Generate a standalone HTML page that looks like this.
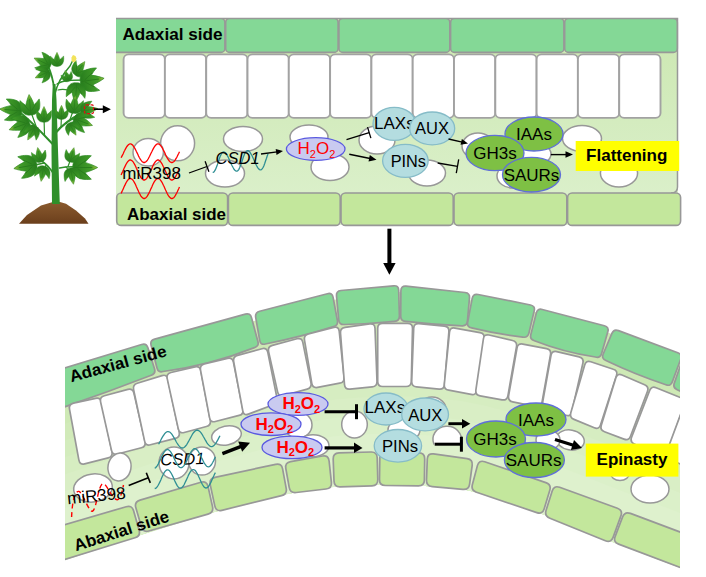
<!DOCTYPE html>
<html><head><meta charset="utf-8"><title>Leaf model</title>
<style>html,body{margin:0;padding:0;background:#fff;}svg{display:block;}</style></head>
<body>
<svg width="706" height="577" viewBox="0 0 706 577" font-family="Liberation Sans, sans-serif">
<defs><linearGradient id="mg" x1="0" y1="0" x2="0" y2="1"><stop offset="0" stop-color="#cbe7b0"/><stop offset="1" stop-color="#ddf1ce"/></linearGradient><clipPath id="bc"><rect x="65" y="270" width="615" height="300"/></clipPath></defs>
<rect width="706" height="577" fill="#fff"/>
<defs><radialGradient id="lg" cx="0.5" cy="0.6" r="0.6"><stop offset="0" stop-color="#257d20"/><stop offset="0.6" stop-color="#37982b"/><stop offset="1" stop-color="#7db840"/></radialGradient><linearGradient id="sg" x1="0" y1="0" x2="0" y2="1"><stop offset="0" stop-color="#8a5a2e"/><stop offset="1" stop-color="#6b3f1c"/></linearGradient></defs>
<defs><linearGradient id="lg2" x1="0" y1="0" x2="0" y2="1"><stop offset="0" stop-color="#a2bd3e"/><stop offset="0.28" stop-color="#429d29"/><stop offset="1" stop-color="#277c1d"/></linearGradient><g id="lf"><path d="M0 0 C-0.2 0.02 -0.42 -0.1 -0.47 -0.35 C-0.5 -0.5 -0.5 -0.62 -0.48 -0.76 C-0.4 -0.66 -0.3 -0.58 -0.21 -0.5 C-0.15 -0.7 -0.08 -0.88 0 -1.02 C0.08 -0.88 0.15 -0.7 0.21 -0.5 C0.3 -0.58 0.4 -0.66 0.48 -0.76 C0.5 -0.62 0.5 -0.5 0.47 -0.35 C0.42 -0.1 0.2 0.02 0 0 Z" fill="url(#lg2)" stroke="#2c8a22" stroke-width="0.03" stroke-linejoin="round"/><path d="M0 -0.05V-0.8M-0.3 -0.55L-0.05 -0.2M0.3 -0.55L0.05 -0.2" stroke="#277a1c" stroke-width="0.035" fill="none"/></g></defs>
<path d="M19 223.8 L27 215 L41 205.5 L52 202.3 L60 202 L66 203.8 L76 210.5 L85 218.5 L88.5 223.8 Z" fill="url(#sg)"/>
<path d="M52 204 L59.8 204 L58 150 L56.5 100 L55.5 84 L52.8 84 L52 100 L51.5 150 Z" fill="#2f8f2a"/>
<path d="M54.5 90 C53 80 51 72 48 66 L43 62" fill="none" stroke="#2f8f2a" stroke-width="1.8" stroke-linecap="round"/>
<path d="M55 94 C57 84 63 74 70 66 L73 60" fill="none" stroke="#2f8f2a" stroke-width="1.4" stroke-linecap="round"/>
<path d="M57 84 C63 80 72 80 86 80" fill="none" stroke="#2f8f2a" stroke-width="1.4" stroke-linecap="round"/>
<path d="M60 80 L66 76" fill="none" stroke="#2f8f2a" stroke-width="1.0" stroke-linecap="round"/>
<path d="M58 90 C64 88 70 90 76 92" fill="none" stroke="#2f8f2a" stroke-width="1.2" stroke-linecap="round"/>
<path d="M53.5 145 C44 135 34 124 22 114 L12 110" fill="none" stroke="#2f8f2a" stroke-width="2.0" stroke-linecap="round"/>
<path d="M36 126 L29.5 108" fill="none" stroke="#2f8f2a" stroke-width="1.2" stroke-linecap="round"/>
<path d="M44.5 135 L44 117" fill="none" stroke="#2f8f2a" stroke-width="1.2" stroke-linecap="round"/>
<path d="M28 119 L21 125" fill="none" stroke="#2f8f2a" stroke-width="1.2" stroke-linecap="round"/>
<path d="M38 128 L32 132" fill="none" stroke="#2f8f2a" stroke-width="1.0" stroke-linecap="round"/>
<path d="M55.5 133 C62 125 72 118 82 113 L88 110" fill="none" stroke="#2f8f2a" stroke-width="2.0" stroke-linecap="round"/>
<path d="M61 127 L61.5 115" fill="none" stroke="#2f8f2a" stroke-width="1.2" stroke-linecap="round"/>
<path d="M70 119.5 L74.5 107" fill="none" stroke="#2f8f2a" stroke-width="1.2" stroke-linecap="round"/>
<path d="M72 119 L82 122" fill="none" stroke="#2f8f2a" stroke-width="1.2" stroke-linecap="round"/>
<path d="M66 123 L72 128" fill="none" stroke="#2f8f2a" stroke-width="1.0" stroke-linecap="round"/>
<path d="M53.7 174 C50 168 46 164 43 162 L39 157" fill="none" stroke="#2f8f2a" stroke-width="1.6" stroke-linecap="round"/>
<path d="M44 163 L28 166.5" fill="none" stroke="#2f8f2a" stroke-width="1.3" stroke-linecap="round"/>
<path d="M46 165 L43 172" fill="none" stroke="#2f8f2a" stroke-width="1.1" stroke-linecap="round"/>
<path d="M59.5 168 C64 167 70 166.5 80 167" fill="none" stroke="#2f8f2a" stroke-width="1.6" stroke-linecap="round"/>
<path d="M68 166.5 L71.5 157" fill="none" stroke="#2f8f2a" stroke-width="1.2" stroke-linecap="round"/>
<path d="M66 167 L71.5 174" fill="none" stroke="#2f8f2a" stroke-width="1.1" stroke-linecap="round"/>
<use href="#lf" transform="translate(42.5 62) rotate(-65) scale(17.8) translate(0 0.5)"/>
<use href="#lf" transform="translate(42.5 74.5) rotate(-115) scale(15.4) translate(0 0.5)"/>
<use href="#lf" transform="translate(57 59.5) rotate(0) scale(13.8) translate(0 0.5)"/>
<use href="#lf" transform="translate(80 68.5) rotate(35) scale(16.2) translate(0 0.5)"/>
<use href="#lf" transform="translate(92 80) rotate(82) scale(23.5) translate(0 0.5)"/>
<use href="#lf" transform="translate(76 92.5) rotate(185) scale(19.4) translate(0 0.5)"/>
<use href="#lf" transform="translate(67 76) rotate(-20) scale(11.3) translate(0 0.5)"/>
<use href="#lf" transform="translate(11 110) rotate(-85) scale(21.9) translate(0 0.5)"/>
<use href="#lf" transform="translate(30 105) rotate(-5) scale(20.2) translate(0 0.5)"/>
<use href="#lf" transform="translate(44 114.5) rotate(0) scale(15.4) translate(0 0.5)"/>
<use href="#lf" transform="translate(61.5 112.5) rotate(0) scale(13.8) translate(0 0.5)"/>
<use href="#lf" transform="translate(74.5 104.5) rotate(5) scale(17.8) translate(0 0.5)"/>
<use href="#lf" transform="translate(89 110) rotate(80) scale(17.0) translate(0 0.5)"/>
<use href="#lf" transform="translate(19.5 126) rotate(-110) scale(21.1) translate(0 0.5)"/>
<use href="#lf" transform="translate(31.7 133) rotate(-150) scale(15.4) translate(0 0.5)"/>
<use href="#lf" transform="translate(83 122) rotate(110) scale(19.4) translate(0 0.5)"/>
<use href="#lf" transform="translate(72.5 129) rotate(150) scale(13.8) translate(0 0.5)"/>
<use href="#lf" transform="translate(39 155) rotate(-10) scale(14.6) translate(0 0.5)"/>
<use href="#lf" transform="translate(25.5 166.5) rotate(-100) scale(22.7) translate(0 0.5)"/>
<use href="#lf" transform="translate(42.5 173.5) rotate(-170) scale(15.4) translate(0 0.5)"/>
<use href="#lf" transform="translate(72 155) rotate(15) scale(14.6) translate(0 0.5)"/>
<use href="#lf" transform="translate(85 167.5) rotate(90) scale(24.3) translate(0 0.5)"/>
<use href="#lf" transform="translate(72 176) rotate(170) scale(16.2) translate(0 0.5)"/>
<path d="M71.5 57.5 L73 55 L75.5 56 L76.5 58.5 L75.5 61.5 L73 62.5 L71.5 60.5 Z" fill="#f2e35a"/>
<rect x="84.5" y="104.9" width="9" height="8.7" rx="1.5" fill="none" stroke="#e01010" stroke-width="1.3" stroke-dasharray="3 1.5"/>
<rect x="94" y="108.4" width="9.5" height="1.6" fill="#000"/><polygon points="102.8,105.2 110.9,109.2 102.8,113.2" fill="#000"/>
<rect x="116" y="18" width="562" height="207" fill="url(#mg)"/>
<path d="M116 18.4H677.5V187Q677.5 193 671 193" fill="none" stroke="#989898" stroke-width="1.5"/>
<clipPath id="tc"><rect x="116" y="18" width="566" height="210"/></clipPath><g clip-path="url(#tc)">
<rect x="110.4" y="18.4" width="114.50000000000001" height="34" rx="4" fill="#84d896" stroke="#989898" stroke-width="1.6"/>
<rect x="225.70000000000002" y="18.4" width="112.39999999999999" height="34" rx="4" fill="#84d896" stroke="#989898" stroke-width="1.6"/>
<rect x="338.9" y="18.4" width="110.89999999999999" height="34" rx="4" fill="#84d896" stroke="#989898" stroke-width="1.6"/>
<rect x="450.59999999999997" y="18.4" width="113.29999999999997" height="34" rx="4" fill="#84d896" stroke="#989898" stroke-width="1.6"/>
<rect x="564.6999999999999" y="18.4" width="112.6000000000001" height="34" rx="4" fill="#84d896" stroke="#989898" stroke-width="1.6"/>
</g>
<rect x="116.7" y="193" width="110.9" height="32.4" rx="4.5" fill="#c3e79c" stroke="#989898" stroke-width="1.6"/>
<rect x="228.4" y="193" width="111.80000000000003" height="32.4" rx="4.5" fill="#c3e79c" stroke="#989898" stroke-width="1.6"/>
<rect x="341.0" y="193" width="112.2" height="32.4" rx="4.5" fill="#c3e79c" stroke="#989898" stroke-width="1.6"/>
<rect x="454.0" y="193" width="112.80000000000003" height="32.4" rx="4.5" fill="#c3e79c" stroke="#989898" stroke-width="1.6"/>
<rect x="567.6" y="193" width="112.99999999999996" height="32.4" rx="4.5" fill="#c3e79c" stroke="#989898" stroke-width="1.6"/>
<rect x="123.6" y="54.4" width="41.3" height="63.5" rx="5" fill="#fff" stroke="#a2a2a2" stroke-width="1.9"/>
<rect x="164.9" y="54.4" width="41.3" height="63.5" rx="5" fill="#fff" stroke="#a2a2a2" stroke-width="1.9"/>
<rect x="206.2" y="54.4" width="41.3" height="63.5" rx="5" fill="#fff" stroke="#a2a2a2" stroke-width="1.9"/>
<rect x="247.5" y="54.4" width="41.3" height="63.5" rx="5" fill="#fff" stroke="#a2a2a2" stroke-width="1.9"/>
<rect x="288.8" y="54.4" width="41.3" height="63.5" rx="5" fill="#fff" stroke="#a2a2a2" stroke-width="1.9"/>
<rect x="330.1" y="54.4" width="41.3" height="63.5" rx="5" fill="#fff" stroke="#a2a2a2" stroke-width="1.9"/>
<rect x="371.4" y="54.4" width="41.3" height="63.5" rx="5" fill="#fff" stroke="#a2a2a2" stroke-width="1.9"/>
<rect x="412.7" y="54.4" width="41.3" height="63.5" rx="5" fill="#fff" stroke="#a2a2a2" stroke-width="1.9"/>
<rect x="454.0" y="54.4" width="41.3" height="63.5" rx="5" fill="#fff" stroke="#a2a2a2" stroke-width="1.9"/>
<rect x="495.3" y="54.4" width="41.3" height="63.5" rx="5" fill="#fff" stroke="#a2a2a2" stroke-width="1.9"/>
<rect x="536.6" y="54.4" width="41.3" height="63.5" rx="5" fill="#fff" stroke="#a2a2a2" stroke-width="1.9"/>
<rect x="577.9" y="54.4" width="41.3" height="63.5" rx="5" fill="#fff" stroke="#a2a2a2" stroke-width="1.9"/>
<rect x="619.2" y="54.4" width="41.3" height="63.5" rx="5" fill="#fff" stroke="#a2a2a2" stroke-width="1.9"/>
<ellipse cx="177.6" cy="143.3" rx="17" ry="17.5" fill="#ffffff" stroke="#989898" stroke-width="1.5"/>
<ellipse cx="148.2" cy="152.2" rx="15.2" ry="13.8" fill="#ffffff" stroke="#989898" stroke-width="1.5"/>
<ellipse cx="243" cy="139" rx="19.5" ry="12.5" fill="#ffffff" stroke="#989898" stroke-width="1.5"/>
<ellipse cx="225" cy="173.5" rx="19.5" ry="13.5" fill="#ffffff" stroke="#989898" stroke-width="1.5"/>
<ellipse cx="309" cy="137" rx="19" ry="12" fill="#ffffff" stroke="#989898" stroke-width="1.5"/>
<ellipse cx="330" cy="167" rx="19" ry="13.5" fill="#ffffff" stroke="#989898" stroke-width="1.5"/>
<ellipse cx="377" cy="140" rx="18" ry="14" fill="#ffffff" stroke="#989898" stroke-width="1.5"/>
<ellipse cx="427" cy="173" rx="18.5" ry="13" fill="#ffffff" stroke="#989898" stroke-width="1.5"/>
<ellipse cx="478" cy="146" rx="16" ry="13" fill="#ffffff" stroke="#989898" stroke-width="1.5"/>
<ellipse cx="513" cy="176" rx="16" ry="12" fill="#ffffff" stroke="#989898" stroke-width="1.5"/>
<ellipse cx="533" cy="154" rx="18" ry="11.5" fill="#ffffff" stroke="#989898" stroke-width="1.5"/>
<ellipse cx="582" cy="138.5" rx="19.5" ry="13" fill="#ffffff" stroke="#989898" stroke-width="1.5"/>
<ellipse cx="619" cy="173" rx="18.6" ry="14" fill="#ffffff" stroke="#989898" stroke-width="1.5"/>
<path d="M121.1 157.8 L121.8 156.4 L122.6 154.9 L123.3 153.4 L124.0 151.8 L124.8 150.3 L125.5 148.9 L126.2 147.6 L126.9 146.5 L127.7 145.5 L128.4 144.8 L129.1 144.2 L129.9 143.9 L130.6 143.9 L131.3 144.1 L132.0 144.6 L132.8 145.3 L133.5 146.3 L134.2 147.4 L135.0 148.6 L135.7 150.0 L136.4 151.5 L137.2 153.1 L137.9 154.6 L138.6 156.1 L139.3 157.5 L140.1 158.8 L140.8 160.0 L141.5 160.9 L142.3 161.7 L143.0 162.2 L143.7 162.5 L144.5 162.5 L145.2 162.2 L145.9 161.8 L146.7 161.0 L147.4 160.1 L148.1 159.0 L148.8 157.7 L149.6 156.3 L150.3 154.8 L151.0 153.3 L151.8 151.8 L152.5 150.3 L153.2 148.9 L153.9 147.6 L154.7 146.4 L155.4 145.5 L156.1 144.7 L156.9 144.2 L157.6 143.9 L158.3 143.9 L159.1 144.2 L159.8 144.7 L160.5 145.4 L161.2 146.3 L162.0 147.4 L162.7 148.7 L163.4 150.1 L164.2 151.6 L164.9 153.1 L165.6 154.7 L166.4 156.2 L167.1 157.6 L167.8 158.9 L168.6 160.0 L169.3 161.0 L170.0 161.7 L170.7 162.2 L171.5 162.5 L172.2 162.5 L172.9 162.2 L173.7 161.7 L174.4 161.0 L175.1 160.1 L175.8 158.9 L176.6 157.6 L177.3 156.2 L178.0 154.7 L178.8 153.2 L179.5 151.7" fill="none" stroke="#f00" stroke-width="1.3"/>
<path d="M121.1 174.9 L121.8 173.4 L122.6 171.8 L123.3 170.2 L124.0 168.5 L124.8 166.9 L125.5 165.4 L126.2 164.0 L126.9 162.8 L127.7 161.7 L128.4 160.9 L129.1 160.4 L129.9 160.0 L130.6 160.0 L131.3 160.3 L132.0 160.8 L132.8 161.5 L133.5 162.5 L134.2 163.7 L135.0 165.1 L135.7 166.6 L136.4 168.2 L137.2 169.9 L137.9 171.5 L138.6 173.1 L139.3 174.6 L140.1 176.0 L140.8 177.3 L141.5 178.3 L142.3 179.1 L143.0 179.7 L143.7 180.0 L144.5 180.0 L145.2 179.7 L145.9 179.2 L146.7 178.4 L147.4 177.4 L148.1 176.2 L148.8 174.9 L149.6 173.3 L150.3 171.7 L151.0 170.1 L151.8 168.5 L152.5 166.8 L153.2 165.3 L153.9 163.9 L154.7 162.7 L155.4 161.7 L156.1 160.9 L156.9 160.3 L157.6 160.0 L158.3 160.0 L159.1 160.3 L159.8 160.8 L160.5 161.6 L161.2 162.6 L162.0 163.8 L162.7 165.2 L163.4 166.7 L164.2 168.3 L164.9 169.9 L165.6 171.6 L166.4 173.2 L167.1 174.7 L167.8 176.1 L168.6 177.3 L169.3 178.3 L170.0 179.1 L170.7 179.7 L171.5 180.0 L172.2 180.0 L172.9 179.7 L173.7 179.2 L174.4 178.4 L175.1 177.4 L175.8 176.2 L176.6 174.8 L177.3 173.3 L178.0 171.7 L178.8 170.0 L179.5 168.4" fill="none" stroke="#f00" stroke-width="1.3"/>
<path d="M121.1 193.4 L121.8 191.9 L122.6 190.3 L123.3 188.7 L124.0 187.0 L124.8 185.4 L125.5 183.9 L126.2 182.5 L126.9 181.3 L127.7 180.2 L128.4 179.4 L129.1 178.9 L129.9 178.5 L130.6 178.5 L131.3 178.8 L132.0 179.3 L132.8 180.0 L133.5 181.0 L134.2 182.2 L135.0 183.6 L135.7 185.1 L136.4 186.7 L137.2 188.4 L137.9 190.0 L138.6 191.6 L139.3 193.1 L140.1 194.5 L140.8 195.8 L141.5 196.8 L142.3 197.6 L143.0 198.2 L143.7 198.5 L144.5 198.5 L145.2 198.2 L145.9 197.7 L146.7 196.9 L147.4 195.9 L148.1 194.7 L148.8 193.4 L149.6 191.8 L150.3 190.2 L151.0 188.6 L151.8 187.0 L152.5 185.3 L153.2 183.8 L153.9 182.4 L154.7 181.2 L155.4 180.2 L156.1 179.4 L156.9 178.8 L157.6 178.5 L158.3 178.5 L159.1 178.8 L159.8 179.3 L160.5 180.1 L161.2 181.1 L162.0 182.3 L162.7 183.7 L163.4 185.2 L164.2 186.8 L164.9 188.4 L165.6 190.1 L166.4 191.7 L167.1 193.2 L167.8 194.6 L168.6 195.8 L169.3 196.8 L170.0 197.6 L170.7 198.2 L171.5 198.5 L172.2 198.5 L172.9 198.2 L173.7 197.7 L174.4 196.9 L175.1 195.9 L175.8 194.7 L176.6 193.3 L177.3 191.8 L178.0 190.2 L178.8 188.5 L179.5 186.9" fill="none" stroke="#f00" stroke-width="1.3"/>
<text x="122.3" y="179" font-size="17" text-anchor="start" font-weight="normal" fill="#000">miR398</text>
<line x1="189.0" y1="173.0" x2="207.0" y2="166.5" stroke="#000" stroke-width="1.3"/><line x1="208.9" y1="171.7" x2="205.1" y2="161.3" stroke="#000" stroke-width="1.3"/>
<path d="M212.7 172.5 L213.7 172.1 L214.5 171.2 L215.4 169.7 L216.2 167.8 L217.1 165.6 L217.9 163.1 L218.7 160.6 L219.5 158.2 L220.3 156.1 L221.2 154.2 L222.0 152.9 L222.9 152.1 L223.8 151.9 L224.8 152.3 L225.8 153.2 L226.8 154.7 L227.9 156.6 L228.9 158.8 L230.0 161.2 L231.0 163.6 L232.1 165.8 L233.2 167.8 L234.2 169.5 L235.2 170.6 L236.1 171.2 L237.1 171.1 L238.0 170.5 L238.9 169.3 L239.7 167.6 L240.5 165.5 L241.4 163.2 L242.2 160.7 L243.0 158.2 L243.8 155.9 L244.6 153.9 L245.5 152.3 L246.4 151.2 L247.3 150.6 L248.2 150.7 L249.2 151.4 L250.2 152.6 L251.2 154.3 L252.3 156.3 L253.3 158.6 L254.4 161.0 L255.5 163.4 L256.5 165.5 L257.5 167.4 L258.6 168.8 L259.5 169.6 L260.5 169.9 L261.4 169.6 L262.3 168.7 L263.2 167.3 L264.0 165.4 L264.8 163.2 L265.6 160.7 L266.5 158.2 L267.3 155.8 L268.1 153.6" fill="none" stroke="#2f8f94" stroke-width="1.3"/>
<text x="215.6" y="164" font-size="16.5" text-anchor="start" font-weight="normal" fill="#000" font-style="italic">CSD1</text>
<line x1="261.0" y1="154.0" x2="277.1" y2="151.8" stroke="#000" stroke-width="1.3"/><polygon points="283.0,151.0 276.5,154.9 275.7,149.0" fill="#000"/>
<ellipse cx="315.7" cy="149" rx="29.3" ry="11.3" fill="#c9caf0" stroke="#5a5ae0" stroke-width="1.3"/>
<text x="316.5" y="154.3" font-size="17" text-anchor="middle" font-weight="normal" fill="#f00">H<tspan font-size="11.05" dy="3.4">2</tspan><tspan dy="-3.4">O</tspan><tspan font-size="11.05" dy="3.4">2</tspan></text>
<line x1="346.5" y1="139.7" x2="369.2" y2="132.6" stroke="#000" stroke-width="1.3"/><line x1="370.9" y1="138.1" x2="367.5" y2="127.1" stroke="#000" stroke-width="1.3"/>
<line x1="349.3" y1="154.2" x2="370.1" y2="158.5" stroke="#000" stroke-width="1.4"/><polygon points="376.5,159.8 368.5,161.5 369.8,155.1" fill="#000"/>
<ellipse cx="394.3" cy="123.8" rx="21.3" ry="16.5" fill="#b4dde0" stroke="#86bcc8" stroke-width="1.3"/>
<text x="374" y="129" font-size="17" text-anchor="start" font-weight="normal" fill="#000">LAXs</text>
<ellipse cx="432.2" cy="128.4" rx="22.5" ry="16.4" fill="#b4dde0" stroke="#86bcc8" stroke-width="1.3"/>
<ellipse cx="405.4" cy="160.8" rx="22.8" ry="16.5" fill="#b4dde0" stroke="#86bcc8" stroke-width="1.3"/>
<text x="432" y="133.5" font-size="16.5" text-anchor="middle" font-weight="normal" fill="#000">AUX</text>
<text x="408.3" y="166.7" font-size="16.3" text-anchor="middle" font-weight="normal" fill="#000">PINs</text>
<line x1="448.5" y1="139.0" x2="462.2" y2="142.2" stroke="#000" stroke-width="1.3"/><polygon points="468.0,143.5 460.5,144.8 461.9,139.0" fill="#000"/>
<line x1="437.7" y1="163.0" x2="457.5" y2="166.3" stroke="#000" stroke-width="1.3"/><line x1="456.3" y1="173.2" x2="458.7" y2="159.4" stroke="#000" stroke-width="1.3"/>
<ellipse cx="534" cy="134" rx="29" ry="17" fill="#7ec044" stroke="#5f6fd8" stroke-width="1.3"/>
<ellipse cx="495" cy="153" rx="29" ry="17.7" fill="#7ec044" stroke="#5f6fd8" stroke-width="1.3"/>
<ellipse cx="531.5" cy="174.7" rx="29" ry="17.3" fill="#7ec044" stroke="#5f6fd8" stroke-width="1.3"/>
<text x="495" y="159" font-size="17" text-anchor="middle" font-weight="normal" fill="#000">GH3s</text>
<text x="534" y="140" font-size="17" text-anchor="middle" font-weight="normal" fill="#000">IAAs</text>
<text x="531.5" y="181" font-size="17" text-anchor="middle" font-weight="normal" fill="#000">SAURs</text>
<line x1="550.8" y1="154.6" x2="566.5" y2="154.6" stroke="#000" stroke-width="1.4"/><polygon points="573.0,154.6 565.5,157.8 565.5,151.3" fill="#000"/>
<rect x="575.7" y="141" width="103.5" height="30" fill="#ffff00"/>
<text x="626.7" y="161.2" font-size="17" text-anchor="middle" font-weight="bold" fill="#000">Flattening</text>
<text x="122.5" y="40" font-size="16.5" text-anchor="start" font-weight="bold" fill="#000" textLength="100" lengthAdjust="spacingAndGlyphs">Adaxial side</text>
<text x="127" y="220.3" font-size="16.5" text-anchor="start" font-weight="bold" fill="#000" textLength="99" lengthAdjust="spacingAndGlyphs">Abaxial side</text>
<rect x="387.4" y="228.7" width="4" height="35" fill="#000"/><polygon points="383.2,263 395.6,263 389.4,274.8" fill="#000"/>
<g clip-path="url(#bc)">
<path d="M60 386 L146 351 L250 322 L332 300 L400 292 L469 300 L535 312 L609 333 L685 362 L685 570 L612 542 L542 514 L470 490 L425 486 L378 485 L334 487 L290 493.5 L215 512 L141 535 L60 562Z" fill="#cde8b3" />
<path d="M60 408.7 L85 399.5 L110 390.4 L135 381.2 L160 372.4 L185 365.9 L210 359.3 L235 352.7 L260 346.1 L285 339.3 L310 332.5 L335 325.7 L360 323.6 L385 321.9 L410 321.7 L435 323.2 L460 324.8 L485 329.0 L510 334.2 L535 340.0 L560 347.0 L585 353.9 L610 362.3 L635 372.4 L660 382.5 L685 395.7 L685 569.5 L660 559.9 L635 550.3 L610 540.7 L585 530.7 L560 520.7 L535 511.2 L510 502.8 L485 494.5 L460 488.6 L435 486.4 L410 485.2 L385 484.6 L360 485.3 L335 486.5 L310 490.0 L285 494.2 L260 500.4 L235 506.6 L210 513.1 L185 520.8 L160 528.6 L135 536.5 L110 544.8 L85 553.2 L60 561.5Z" fill="rgb(206,233,181)"/>
<path d="M60 425.5 L85 416.6 L110 407.7 L135 398.7 L160 390.1 L185 383.3 L210 376.5 L235 370.0 L260 363.4 L285 356.7 L310 350.4 L335 344.1 L360 342.0 L385 340.5 L410 340.4 L435 342.0 L460 343.8 L485 348.2 L510 353.8 L535 359.7 L560 367.0 L585 374.4 L610 383.0 L635 393.0 L660 403.0 L685 415.5 L685 569.5 L660 559.9 L635 550.3 L610 540.7 L585 530.7 L560 520.7 L535 511.2 L510 502.8 L485 494.5 L460 488.6 L435 486.4 L410 485.2 L385 484.6 L360 485.3 L335 486.5 L310 490.0 L285 494.2 L260 500.4 L235 506.6 L210 513.1 L185 520.8 L160 528.6 L135 536.5 L110 544.8 L85 553.2 L60 561.5Z" fill="rgb(209,234,185)"/>
<path d="M60 442.2 L85 433.6 L110 425.0 L135 416.3 L160 407.8 L185 400.8 L210 393.8 L235 387.3 L260 380.7 L285 374.2 L310 368.3 L335 362.6 L360 360.5 L385 359.2 L410 359.1 L435 360.8 L460 362.8 L485 367.4 L510 373.3 L535 379.5 L560 387.0 L585 394.8 L610 403.7 L635 413.6 L660 423.4 L685 435.4 L685 569.5 L660 559.9 L635 550.3 L610 540.7 L585 530.7 L560 520.7 L535 511.2 L510 502.8 L485 494.5 L460 488.6 L435 486.4 L410 485.2 L385 484.6 L360 485.3 L335 486.5 L310 490.0 L285 494.2 L260 500.4 L235 506.6 L210 513.1 L185 520.8 L160 528.6 L135 536.5 L110 544.8 L85 553.2 L60 561.5Z" fill="rgb(211,236,189)"/>
<path d="M60 459.0 L85 450.6 L110 442.3 L135 433.8 L160 425.4 L185 418.2 L210 411.1 L235 404.6 L260 398.0 L285 391.6 L310 386.2 L335 381.0 L360 379.0 L385 377.8 L410 377.8 L435 379.5 L460 381.8 L485 386.6 L510 392.8 L535 399.3 L560 407.0 L585 415.3 L610 424.4 L635 434.2 L660 443.9 L685 455.2 L685 569.5 L660 559.9 L635 550.3 L610 540.7 L585 530.7 L560 520.7 L535 511.2 L510 502.8 L485 494.5 L460 488.6 L435 486.4 L410 485.2 L385 484.6 L360 485.3 L335 486.5 L310 490.0 L285 494.2 L260 500.4 L235 506.6 L210 513.1 L185 520.8 L160 528.6 L135 536.5 L110 544.8 L85 553.2 L60 561.5Z" fill="rgb(214,237,193)"/>
<path d="M60 475.8 L85 467.7 L110 459.6 L135 451.4 L160 443.1 L185 435.7 L210 428.4 L235 421.9 L260 415.4 L285 409.1 L310 404.1 L335 399.4 L360 397.5 L385 396.4 L410 396.6 L435 398.3 L460 400.8 L485 405.8 L510 412.3 L535 419.1 L560 427.0 L585 435.7 L610 445.1 L635 454.8 L660 464.3 L685 475.1 L685 569.5 L660 559.9 L635 550.3 L610 540.7 L585 530.7 L560 520.7 L535 511.2 L510 502.8 L485 494.5 L460 488.6 L435 486.4 L410 485.2 L385 484.6 L360 485.3 L335 486.5 L310 490.0 L285 494.2 L260 500.4 L235 506.6 L210 513.1 L185 520.8 L160 528.6 L135 536.5 L110 544.8 L85 553.2 L60 561.5Z" fill="rgb(217,238,197)"/>
<path d="M60 492.6 L85 484.7 L110 476.9 L135 468.9 L160 460.7 L185 453.1 L210 445.7 L235 439.2 L260 432.7 L285 426.5 L310 422.0 L335 417.8 L360 416.0 L385 415.0 L410 415.3 L435 417.1 L460 419.8 L485 424.9 L510 431.8 L535 438.9 L560 447.0 L585 456.2 L610 465.8 L635 475.4 L660 484.8 L685 494.9 L685 569.5 L660 559.9 L635 550.3 L610 540.7 L585 530.7 L560 520.7 L535 511.2 L510 502.8 L485 494.5 L460 488.6 L435 486.4 L410 485.2 L385 484.6 L360 485.3 L335 486.5 L310 490.0 L285 494.2 L260 500.4 L235 506.6 L210 513.1 L185 520.8 L160 528.6 L135 536.5 L110 544.8 L85 553.2 L60 561.5Z" fill="rgb(219,240,201)"/>
<path d="M60 509.4 L85 501.8 L110 494.2 L135 486.5 L160 478.4 L185 470.6 L210 462.9 L235 456.5 L260 450.0 L285 443.9 L310 439.9 L335 436.2 L360 434.5 L385 433.6 L410 434.0 L435 435.9 L460 438.8 L485 444.1 L510 451.4 L535 458.7 L560 467.0 L585 476.6 L610 486.5 L635 496.1 L660 505.2 L685 514.8 L685 569.5 L660 559.9 L635 550.3 L610 540.7 L585 530.7 L560 520.7 L535 511.2 L510 502.8 L485 494.5 L460 488.6 L435 486.4 L410 485.2 L385 484.6 L360 485.3 L335 486.5 L310 490.0 L285 494.2 L260 500.4 L235 506.6 L210 513.1 L185 520.8 L160 528.6 L135 536.5 L110 544.8 L85 553.2 L60 561.5Z" fill="rgb(222,241,205)"/>
<path d="M44.8 374.0 L141.6 344.5 Q146.4 343.0 147.9 347.8 L154.5 368.7 Q156.0 373.5 151.3 375.2 Q103.3 393.7 54.7 410.3 Q50.0 412.0 48.7 407.2 L41.3 380.3 Q40.0 375.5 44.8 374.0 Z" fill="#84d896" stroke="#989898" stroke-width="1.7" stroke-linejoin="round"/>
<path d="M154.7 339.1 L245.4 314.1 Q250.2 312.8 251.5 317.6 L257.9 341.5 Q259.2 346.3 254.4 347.6 Q210.2 365.4 163.0 371.5 Q158.2 372.8 157.0 368.0 L151.1 345.2 Q149.9 340.4 154.7 339.1 Z" fill="#84d896" stroke="#989898" stroke-width="1.7" stroke-linejoin="round"/>
<path d="M259.7 311.2 L327.4 293.7 Q332.2 292.4 333.1 297.3 L337.4 320.5 Q338.3 325.4 333.5 326.6 Q299.9 337.2 265.3 344.0 Q260.5 345.2 259.7 340.3 L255.7 317.4 Q254.9 312.5 259.7 311.2 Z" fill="#84d896" stroke="#989898" stroke-width="1.7" stroke-linejoin="round"/>
<path d="M341.0 290.5 L393.6 285.8 Q398.6 285.3 398.7 290.3 L399.4 316.0 Q399.5 321.0 394.5 321.3 Q369.4 323.9 344.2 324.5 Q339.2 324.8 338.7 319.8 L336.5 296.0 Q336.0 291.0 341.0 290.5 Z" fill="#84d896" stroke="#989898" stroke-width="1.7" stroke-linejoin="round"/>
<path d="M406.0 286.2 L465.0 292.5 Q470.0 293.0 469.5 298.0 L467.4 321.2 Q466.9 326.2 461.9 325.8 Q433.7 324.6 405.6 321.4 Q400.6 321.0 400.7 316.0 L400.9 290.7 Q401.0 285.7 406.0 286.2 Z" fill="#84d896" stroke="#989898" stroke-width="1.7" stroke-linejoin="round"/>
<path d="M478.1 294.5 L530.5 305.0 Q535.4 306.0 534.2 310.9 L528.9 333.1 Q527.7 338.0 522.8 337.1 Q496.9 334.1 471.6 327.9 Q466.7 327.0 467.7 322.1 L472.2 298.4 Q473.2 293.5 478.1 294.5 Z" fill="#84d896" stroke="#989898" stroke-width="1.7" stroke-linejoin="round"/>
<path d="M542.3 309.5 L604.4 325.7 Q609.2 327.0 607.8 331.8 L601.6 353.5 Q600.2 358.3 595.4 357.0 Q564.0 352.3 534.4 340.7 Q529.6 339.4 530.8 334.6 L536.3 313.0 Q537.5 308.2 542.3 309.5 Z" fill="#84d896" stroke="#989898" stroke-width="1.7" stroke-linejoin="round"/>
<path d="M618.5 330.6 L677.8 352.7 Q682.5 354.5 680.7 359.2 L672.3 381.9 Q670.5 386.6 665.9 384.7 Q635.1 374.5 605.9 360.5 Q601.3 358.6 603.2 354.0 L611.9 333.4 Q613.8 328.8 618.5 330.6 Z" fill="#84d896" stroke="#989898" stroke-width="1.7" stroke-linejoin="round"/>
<path d="M689.1 355.9 L707.4 363.1 Q712.0 365.0 710.4 369.7 L701.6 394.8 Q700.0 399.5 695.4 397.5 L677.2 389.8 Q672.6 387.8 674.3 383.1 L682.8 358.7 Q684.5 354.0 689.1 355.9 Z" fill="#84d896" stroke="#989898" stroke-width="1.7" stroke-linejoin="round"/>
<path d="M45.8 530.3 L126.2 506.7 Q132.0 505.0 133.6 510.8 L139.1 530.2 Q140.7 536.0 135.0 537.8 L45.7 565.2 Q40.0 567.0 40.0 561.0 L40.0 538.0 Q40.0 532.0 45.8 530.3 Z" fill="#c3e79c" stroke="#989898" stroke-width="1.7" stroke-linejoin="round"/>
<path d="M140.0 500.1 L200.9 482.2 Q206.7 480.5 208.0 486.4 L212.5 506.6 Q213.8 512.5 208.0 514.1 L148.8 531.0 Q143.0 532.6 141.4 526.8 L135.8 507.6 Q134.2 501.8 140.0 500.1 Z" fill="#c3e79c" stroke="#989898" stroke-width="1.7" stroke-linejoin="round"/>
<path d="M214.9 477.4 L275.6 464.3 Q281.5 463.0 282.6 468.9 L286.2 488.4 Q287.3 494.3 281.5 495.7 L221.8 510.3 Q216.0 511.7 214.8 505.8 L210.2 484.6 Q209.0 478.7 214.9 477.4 Z" fill="#c3e79c" stroke="#989898" stroke-width="1.7" stroke-linejoin="round"/>
<path d="M290.7 461.6 L322.6 456.0 Q328.5 455.0 329.1 461.0 L331.4 482.3 Q332.0 488.3 326.0 489.0 L296.2 492.5 Q290.2 493.2 289.2 487.3 L285.8 468.5 Q284.8 462.6 290.7 461.6 Z" fill="#c3e79c" stroke="#989898" stroke-width="1.7" stroke-linejoin="round"/>
<path d="M339.0 452.8 L371.0 452.0 Q377.0 451.8 377.2 457.8 L377.8 479.6 Q378.0 485.6 372.0 485.8 L340.2 486.8 Q334.2 487.0 334.0 481.0 L333.2 459.0 Q333.0 453.0 339.0 452.8 Z" fill="#c3e79c" stroke="#989898" stroke-width="1.7" stroke-linejoin="round"/>
<path d="M385.9 452.5 L418.8 452.9 Q424.8 453.0 424.7 459.0 L424.4 480.0 Q424.3 486.0 418.3 485.9 L385.4 485.5 Q379.4 485.4 379.5 479.4 L379.8 458.4 Q379.9 452.4 385.9 452.5 Z" fill="#c3e79c" stroke="#989898" stroke-width="1.7" stroke-linejoin="round"/>
<path d="M433.5 453.9 L467.1 458.6 Q473.0 459.5 472.2 465.4 L469.6 484.1 Q468.8 490.0 462.8 489.4 L432.2 486.6 Q426.2 486.0 426.5 480.0 L427.3 459.0 Q427.6 453.0 433.5 453.9 Z" fill="#c3e79c" stroke="#989898" stroke-width="1.7" stroke-linejoin="round"/>
<path d="M484.7 461.7 L545.8 482.6 Q551.5 484.5 549.8 490.2 L544.2 508.8 Q542.5 514.5 536.8 512.6 L476.5 492.2 Q470.8 490.3 472.4 484.5 L477.4 465.6 Q479.0 459.8 484.7 461.7 Z" fill="#c3e79c" stroke="#989898" stroke-width="1.7" stroke-linejoin="round"/>
<path d="M559.6 487.3 L617.4 508.2 Q623.0 510.3 620.9 515.9 L613.1 537.4 Q611.0 543.0 605.4 540.7 L549.9 518.3 Q544.3 516.0 546.1 510.3 L552.2 490.9 Q554.0 485.2 559.6 487.3 Z" fill="#c3e79c" stroke="#989898" stroke-width="1.7" stroke-linejoin="round"/>
<path d="M630.4 513.4 L694.4 537.4 Q700.0 539.5 700.0 545.5 L700.0 569.0 Q700.0 575.0 694.4 572.9 L618.6 544.1 Q613.0 542.0 615.2 536.4 L622.6 516.9 Q624.8 511.3 630.4 513.4 Z" fill="#c3e79c" stroke="#989898" stroke-width="1.7" stroke-linejoin="round"/>
<path d="M73.5 403.1 L95.6 398.3 Q100.5 397.2 101.5 402.1 L112.0 451.8 Q113.0 456.7 108.2 457.9 L84.6 463.9 Q79.8 465.1 78.9 460.2 L69.5 409.1 Q68.6 404.2 73.5 403.1 Z" fill="#ffffff" stroke="#989898" stroke-width="1.7" stroke-linejoin="round"/>
<path d="M104.4 395.8 L127.9 389.4 Q132.7 388.1 133.9 393.0 L145.1 441.6 Q146.2 446.5 141.4 447.8 L117.4 454.0 Q112.6 455.3 111.5 450.4 L100.6 402.0 Q99.5 397.1 104.4 395.8 Z" fill="#ffffff" stroke="#989898" stroke-width="1.7" stroke-linejoin="round"/>
<path d="M137.3 383.3 L162.0 375.6 Q166.8 374.1 167.8 379.0 L179.2 432.3 Q180.2 437.2 175.4 438.4 L150.4 444.8 Q145.6 446.1 144.6 441.2 L133.6 389.7 Q132.6 384.8 137.3 383.3 Z" fill="#ffffff" stroke="#989898" stroke-width="1.7" stroke-linejoin="round"/>
<path d="M171.0 372.5 L195.0 366.8 Q199.8 365.7 200.8 370.6 L210.3 420.3 Q211.2 425.2 206.4 426.5 L184.2 432.5 Q179.4 433.8 178.3 428.9 L167.2 378.6 Q166.1 373.7 171.0 372.5 Z" fill="#ffffff" stroke="#989898" stroke-width="1.7" stroke-linejoin="round"/>
<path d="M204.4 363.9 L227.5 358.3 Q232.4 357.2 233.4 362.1 L242.9 409.3 Q243.9 414.2 239.1 415.4 L215.3 421.5 Q210.5 422.8 209.6 417.9 L200.5 370.0 Q199.6 365.1 204.4 363.9 Z" fill="#ffffff" stroke="#989898" stroke-width="1.7" stroke-linejoin="round"/>
<path d="M237.6 355.4 L262.0 348.7 Q266.8 347.4 267.8 352.3 L277.0 398.2 Q278.0 403.1 273.3 404.8 L248.4 414.1 Q243.7 415.9 242.8 411.0 L233.7 361.6 Q232.8 356.7 237.6 355.4 Z" fill="#ffffff" stroke="#989898" stroke-width="1.7" stroke-linejoin="round"/>
<path d="M272.4 345.4 L297.0 338.8 Q301.8 337.5 302.8 342.4 L311.0 382.9 Q312.0 387.8 307.2 389.1 L283.5 395.5 Q278.7 396.8 277.6 391.9 L268.6 351.6 Q267.5 346.7 272.4 345.4 Z" fill="#ffffff" stroke="#989898" stroke-width="1.7" stroke-linejoin="round"/>
<path d="M308.5 334.0 L333.8 327.4 Q338.6 326.1 339.2 331.1 L344.1 377.3 Q344.6 382.3 339.7 383.2 L317.6 387.4 Q312.7 388.3 311.8 383.4 L304.5 340.2 Q303.6 335.3 308.5 334.0 Z" fill="#ffffff" stroke="#989898" stroke-width="1.7" stroke-linejoin="round"/>
<path d="M345.1 327.4 L369.8 323.9 Q374.8 323.2 375.0 328.2 L377.0 381.4 Q377.2 386.4 372.2 386.9 L349.9 389.1 Q344.9 389.6 344.5 384.6 L340.5 333.0 Q340.1 328.1 345.1 327.4 Z" fill="#ffffff" stroke="#989898" stroke-width="1.7" stroke-linejoin="round"/>
<path d="M382.6 323.4 L407.6 323.4 Q412.6 323.4 412.5 328.4 L411.3 381.5 Q411.1 386.5 406.1 386.5 L382.6 386.5 Q377.7 386.5 377.7 381.5 L377.7 328.4 Q377.7 323.4 382.6 323.4 Z" fill="#ffffff" stroke="#989898" stroke-width="1.7" stroke-linejoin="round"/>
<path d="M418.9 323.7 L444.3 326.1 Q449.3 326.5 448.9 331.5 L444.5 384.6 Q444.1 389.6 439.1 389.1 L416.5 386.9 Q411.5 386.4 411.7 381.4 L413.7 328.3 Q413.9 323.3 418.9 323.7 Z" fill="#ffffff" stroke="#989898" stroke-width="1.7" stroke-linejoin="round"/>
<path d="M454.9 328.1 L479.9 332.7 Q484.9 333.6 484.2 338.6 L476.8 390.4 Q476.1 395.3 471.1 394.4 L448.7 390.2 Q443.8 389.3 444.3 384.3 L449.5 332.2 Q450.0 327.2 454.9 328.1 Z" fill="#ffffff" stroke="#989898" stroke-width="1.7" stroke-linejoin="round"/>
<path d="M489.0 335.0 L512.5 340.5 Q517.4 341.7 516.5 346.6 L507.9 395.8 Q507.0 400.7 502.1 399.8 L480.1 395.8 Q475.2 394.9 475.9 389.9 L483.4 338.8 Q484.1 333.9 489.0 335.0 Z" fill="#ffffff" stroke="#989898" stroke-width="1.7" stroke-linejoin="round"/>
<path d="M522.8 344.1 L546.5 348.7 Q551.4 349.6 550.5 354.6 L541.9 402.8 Q541.0 407.7 536.1 406.7 L512.7 401.8 Q507.8 400.8 508.6 395.8 L517.0 348.1 Q517.8 343.2 522.8 344.1 Z" fill="#ffffff" stroke="#989898" stroke-width="1.7" stroke-linejoin="round"/>
<path d="M556.7 351.6 L579.1 356.9 Q584.0 358.1 582.9 363.0 L571.8 412.0 Q570.7 416.9 565.9 415.3 L546.6 408.7 Q541.8 407.1 542.7 402.2 L551.0 355.4 Q551.9 350.5 556.7 351.6 Z" fill="#ffffff" stroke="#989898" stroke-width="1.7" stroke-linejoin="round"/>
<path d="M590.8 361.7 L613.3 369.3 Q618.1 370.8 616.5 375.6 L600.5 425.0 Q598.9 429.7 594.3 427.8 L574.0 419.4 Q569.4 417.5 570.8 412.7 L584.7 364.9 Q586.1 360.1 590.8 361.7 Z" fill="#ffffff" stroke="#989898" stroke-width="1.7" stroke-linejoin="round"/>
<path d="M622.0 375.0 L644.6 384.7 Q649.2 386.7 647.5 391.3 L630.5 436.2 Q628.7 440.9 624.0 439.1 L604.5 431.8 Q599.8 430.1 601.3 425.3 L615.9 377.8 Q617.4 373.0 622.0 375.0 Z" fill="#ffffff" stroke="#989898" stroke-width="1.7" stroke-linejoin="round"/>
<path d="M656.1 387.7 L681.5 398.0 Q686.1 399.9 684.4 404.6 L667.1 453.2 Q665.4 457.9 660.8 455.9 L634.3 444.0 Q629.8 442.0 631.6 437.3 L649.7 390.4 Q651.5 385.8 656.1 387.7 Z" fill="#ffffff" stroke="#989898" stroke-width="1.7" stroke-linejoin="round"/>
<path d="M690.1 403.0 L712.0 412.0 Q716.6 413.9 714.9 418.6 L697.6 466.2 Q695.9 470.9 691.3 468.9 L669.3 459.0 Q664.8 457.0 666.5 452.3 L683.8 405.7 Q685.5 401.1 690.1 403.0 Z" fill="#ffffff" stroke="#989898" stroke-width="1.7" stroke-linejoin="round"/>
<ellipse cx="93" cy="488" rx="19.4" ry="14" fill="#ffffff" stroke="#989898" stroke-width="1.5" transform="rotate(-8 93 488)"/>
<ellipse cx="119.5" cy="467" rx="11.5" ry="14" fill="#ffffff" stroke="#989898" stroke-width="1.5" transform="rotate(10 119.5 467)"/>
<ellipse cx="174" cy="463" rx="15" ry="16" fill="#ffffff" stroke="#989898" stroke-width="1.5"/>
<ellipse cx="202" cy="461" rx="13.5" ry="14" fill="#ffffff" stroke="#989898" stroke-width="1.5"/>
<ellipse cx="226.5" cy="435.5" rx="15" ry="9.5" fill="#ffffff" stroke="#989898" stroke-width="1.5" transform="rotate(-12 226.5 435.5)"/>
<ellipse cx="298" cy="425" rx="14" ry="13" fill="#ffffff" stroke="#989898" stroke-width="1.5"/>
<ellipse cx="313" cy="445.7" rx="16" ry="11" fill="#ffffff" stroke="#989898" stroke-width="1.5"/>
<ellipse cx="354.5" cy="424.5" rx="12.8" ry="13.5" fill="#ffffff" stroke="#989898" stroke-width="1.5"/>
<ellipse cx="404" cy="430" rx="16" ry="11.5" fill="#ffffff" stroke="#989898" stroke-width="1.5"/>
<ellipse cx="432" cy="411" rx="14.5" ry="14" fill="#ffffff" stroke="#989898" stroke-width="1.5"/>
<ellipse cx="570.4" cy="440" rx="14" ry="10" fill="#ffffff" stroke="#989898" stroke-width="1.5" transform="rotate(10 570.4 440)"/>
<ellipse cx="650" cy="489" rx="19" ry="14" fill="#ffffff" stroke="#989898" stroke-width="1.5"/>
<ellipse cx="620" cy="473" rx="9.5" ry="7.5" fill="#ffffff" stroke="#989898" stroke-width="1.5"/>
<ellipse cx="548" cy="440" rx="12" ry="10" fill="#ffffff" stroke="#989898" stroke-width="1.5"/>
<ellipse cx="520" cy="452" rx="14" ry="10" fill="#ffffff" stroke="#989898" stroke-width="1.5"/>
<path d="M434 444.5 C430.5 436 436 427 446 426.3 C455 425.6 462.5 432 462.3 444.5" fill="#fff" stroke="#989898" stroke-width="1.5"/>
<path d="M71.6 517 C72 508 73 496 77 492 C81 488 85 503 90.5 510.5 C96 516 97 490 101.8 484.4 C106 480 110 497 116.7 499.7 C120 501 122 492 123.5 485" fill="none" stroke="#f00" stroke-width="1.4" stroke-dasharray="5 3.5"/>
<text x="67.8" y="504.3" font-size="17" text-anchor="start" font-weight="normal" fill="#000" transform="rotate(-5.7 67.8 504.3)">miR398</text>
<line x1="128.7" y1="485.5" x2="148.3" y2="477.8" stroke="#000" stroke-width="1.6"/><line x1="150.3" y1="482.9" x2="146.3" y2="472.7" stroke="#000" stroke-width="1.6"/>
<text x="160.6" y="465.5" font-size="16.5" text-anchor="start" font-weight="normal" fill="#000" font-style="italic" transform="rotate(-2 160.6 465.5)">CSD1</text>
<path d="M158.6 444.2 L159.5 442.6 L160.4 441.0 L161.2 439.3 L162.1 437.7 L163.0 436.2 L163.9 434.8 L164.7 433.6 L165.6 432.7 L166.5 432.0 L167.4 431.6 L168.2 431.6 L169.1 431.8 L170.0 432.3 L170.9 433.1 L171.8 434.2 L172.6 435.4 L173.5 436.8 L174.4 438.3 L175.3 439.9 L176.1 441.5 L177.0 443.0 L177.9 444.4 L178.8 445.6 L179.7 446.6 L180.5 447.4 L181.4 447.8 L182.3 448.0 L183.2 447.9 L184.0 447.5 L184.9 446.8 L185.8 445.8 L186.7 444.6 L187.5 443.2 L188.4 441.7 L189.3 440.0 L190.2 438.4 L191.1 436.7 L191.9 435.2 L192.8 433.7 L193.7 432.5 L194.6 431.5 L195.4 430.7 L196.3 430.3 L197.2 430.1 L198.1 430.3 L198.9 430.7 L199.8 431.4 L200.7 432.4 L201.6 433.6 L202.5 435.0 L203.3 436.5 L204.2 438.0 L205.1 439.6 L206.0 441.1 L206.8 442.6 L207.7 443.8 L208.6 444.9 L209.5 445.7 L210.4 446.3 L211.2 446.6 L212.1 446.6 L213.0 446.2 L213.9 445.6 L214.7 444.7 L215.6 443.5 L216.5 442.2 L217.4 440.7 L218.2 439.1 L219.1 437.4 L220.0 435.8" fill="none" stroke="#2f8f94" stroke-width="1.3"/>
<path d="M154.7 468.3 L155.6 467.7 L156.4 466.8 L157.3 465.6 L158.2 464.1 L159.0 462.4 L159.9 460.6 L160.8 458.7 L161.6 456.8 L162.5 455.1 L163.4 453.4 L164.2 452.0 L165.1 450.9 L166.0 450.1 L166.8 449.6 L167.7 449.5 L168.6 449.8 L169.4 450.4 L170.3 451.4 L171.2 452.6 L172.0 454.1 L172.9 455.8 L173.8 457.5 L174.6 459.4 L175.5 461.2 L176.4 462.9 L177.2 464.4 L178.1 465.7 L179.0 466.7 L179.8 467.3 L180.7 467.6 L181.6 467.6 L182.4 467.2 L183.3 466.4 L184.2 465.3 L185.0 464.0 L185.9 462.4 L186.8 460.6 L187.7 458.8 L188.5 456.9 L189.4 455.0 L190.3 453.3 L191.1 451.8 L192.0 450.6 L192.9 449.6 L193.7 448.9 L194.6 448.7 L195.5 448.7 L196.3 449.2 L197.2 450.0 L198.1 451.1 L198.9 452.5 L199.8 454.1 L200.7 455.8 L201.5 457.6 L202.4 459.4 L203.3 461.2 L204.1 462.8 L205.0 464.2 L205.9 465.4 L206.7 466.2 L207.6 466.7 L208.5 466.8 L209.3 466.6 L210.2 466.0 L211.1 465.0 L211.9 463.8 L212.8 462.3 L213.7 460.6 L214.5 458.8 L215.4 456.9" fill="none" stroke="#2f8f94" stroke-width="1.3"/>
<path d="M154.7 488.5 L155.6 488.3 L156.4 487.7 L157.3 486.7 L158.2 485.3 L159.0 483.7 L159.9 481.9 L160.8 479.9 L161.6 478.0 L162.5 476.0 L163.4 474.3 L164.2 472.7 L165.1 471.4 L166.0 470.5 L166.8 469.9 L167.7 469.8 L168.6 470.1 L169.4 470.7 L170.3 471.8 L171.2 473.2 L172.0 474.8 L172.9 476.6 L173.8 478.6 L174.6 480.5 L175.5 482.4 L176.4 484.1 L177.2 485.6 L178.1 486.9 L179.0 487.7 L179.8 488.2 L180.7 488.2 L181.6 487.8 L182.4 487.1 L183.3 486.0 L184.2 484.5 L185.0 482.8 L185.9 480.9 L186.8 479.0 L187.7 477.0 L188.5 475.1 L189.4 473.4 L190.3 471.9 L191.1 470.8 L192.0 470.0 L192.9 469.6 L193.7 469.6 L194.6 470.0 L195.5 470.8 L196.3 472.0 L197.2 473.5 L198.1 475.2 L198.9 477.1 L199.8 479.0 L200.7 481.0 L201.5 482.8 L202.4 484.5 L203.3 485.9 L204.1 487.0 L205.0 487.7 L205.9 488.0 L206.7 487.9 L207.6 487.4 L208.5 486.5 L209.3 485.2 L210.2 483.7 L211.1 481.9 L211.9 480.0 L212.8 478.0 L213.7 476.1 L214.5 474.2 L215.4 472.6" fill="none" stroke="#2f8f94" stroke-width="1.3"/>
<line x1="222.4" y1="453.6" x2="241.2" y2="446.3" stroke="#000" stroke-width="3.4"/><polygon points="250.0,442.8 242.2,451.7 238.2,441.5" fill="#000"/>
<ellipse cx="298" cy="404" rx="30" ry="11.3" fill="#c9caf0" stroke="#5a5ae0" stroke-width="1.3"/>
<text x="301.3" y="409.4" font-size="17" text-anchor="middle" font-weight="bold" fill="#f00">H<tspan font-size="11.05" dy="3.4">2</tspan><tspan dy="-3.4">O</tspan><tspan font-size="11.05" dy="3.4">2</tspan></text>
<ellipse cx="271" cy="424.2" rx="30" ry="11.3" fill="#c9caf0" stroke="#5a5ae0" stroke-width="1.3"/>
<text x="274.3" y="429.59999999999997" font-size="17" text-anchor="middle" font-weight="bold" fill="#f00">H<tspan font-size="11.05" dy="3.4">2</tspan><tspan dy="-3.4">O</tspan><tspan font-size="11.05" dy="3.4">2</tspan></text>
<ellipse cx="292" cy="447.4" rx="30" ry="11.3" fill="#c9caf0" stroke="#5a5ae0" stroke-width="1.3"/>
<text x="295.3" y="452.79999999999995" font-size="17" text-anchor="middle" font-weight="bold" fill="#f00">H<tspan font-size="11.05" dy="3.4">2</tspan><tspan dy="-3.4">O</tspan><tspan font-size="11.05" dy="3.4">2</tspan></text>
<line x1="324.6" y1="411.7" x2="356.5" y2="411.7" stroke="#000" stroke-width="3"/><line x1="356.5" y1="419.2" x2="356.5" y2="404.2" stroke="#000" stroke-width="3"/>
<line x1="324.6" y1="447.9" x2="355.0" y2="447.9" stroke="#000" stroke-width="3.2"/><polygon points="362.5,447.9 354.0,453.1 354.0,442.6" fill="#000"/>
<ellipse cx="386" cy="409" rx="22" ry="16" fill="#b4dde0" stroke="#86bcc8" stroke-width="1.3"/>
<text x="364.5" y="413.3" font-size="17" text-anchor="start" font-weight="normal" fill="#000">LAXs</text>
<ellipse cx="425.1" cy="414.4" rx="23.4" ry="16.4" fill="#b4dde0" stroke="#86bcc8" stroke-width="1.3"/>
<ellipse cx="397.9" cy="445.8" rx="23.7" ry="16.3" fill="#b4dde0" stroke="#86bcc8" stroke-width="1.3"/>
<text x="425.3" y="421" font-size="16.7" text-anchor="middle" font-weight="normal" fill="#000">AUX</text>
<text x="400" y="451.6" font-size="16.7" text-anchor="middle" font-weight="normal" fill="#000">PINs</text>
<line x1="448.4" y1="423.7" x2="463.0" y2="423.7" stroke="#000" stroke-width="2.9"/><polygon points="470.3,423.7 462.0,428.4 462.0,418.9" fill="#000"/>
<line x1="434.7" y1="444.2" x2="461.4" y2="444.2" stroke="#000" stroke-width="3"/><line x1="461.4" y1="451.7" x2="461.4" y2="436.7" stroke="#000" stroke-width="3"/>
<ellipse cx="536" cy="419.5" rx="30" ry="16.5" fill="#7ec044" stroke="#5f6fd8" stroke-width="1.3"/>
<ellipse cx="496" cy="439" rx="29.5" ry="18" fill="#7ec044" stroke="#5f6fd8" stroke-width="1.3"/>
<ellipse cx="534.4" cy="460" rx="30" ry="17.5" fill="#7ec044" stroke="#5f6fd8" stroke-width="1.3"/>
<text x="495" y="445" font-size="17" text-anchor="middle" font-weight="normal" fill="#000">GH3s</text>
<text x="536" y="425.5" font-size="17" text-anchor="middle" font-weight="normal" fill="#000">IAAs</text>
<text x="533.6" y="466" font-size="17" text-anchor="middle" font-weight="normal" fill="#000">SAURs</text>
<line x1="555.0" y1="439.5" x2="573.4" y2="445.3" stroke="#000" stroke-width="3.2"/><polygon points="582.0,448.0 570.9,450.0 574.0,440.0" fill="#000"/>
<rect x="585.8" y="443.6" width="92.6" height="33" fill="#ffff00"/>
<text x="632" y="465.2" font-size="17" text-anchor="middle" font-weight="bold" fill="#000">Epinasty</text>
<text x="71.2" y="382.3" font-size="16.5" text-anchor="start" font-weight="bold" fill="#000" transform="rotate(-15.3 71.2 382.3)" textLength="100" lengthAdjust="spacingAndGlyphs">Adaxial side</text>
<text x="76" y="551.3" font-size="16.5" text-anchor="start" font-weight="bold" fill="#000" transform="rotate(-17.8 76 551.3)" textLength="99" lengthAdjust="spacingAndGlyphs">Abaxial side</text>
</g>
</svg>
</body></html>
